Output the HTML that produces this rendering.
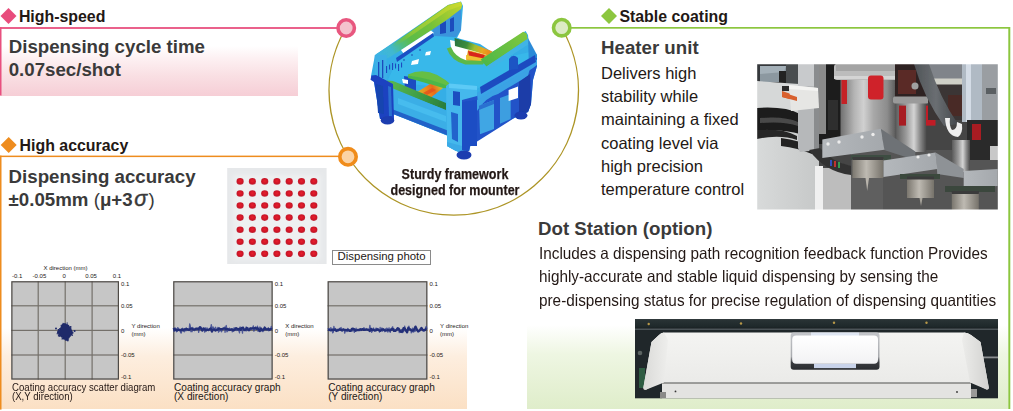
<!DOCTYPE html>
<html><head><meta charset="utf-8">
<style>
*{margin:0;padding:0;box-sizing:border-box}
html,body{width:1013px;height:411px;overflow:hidden;background:#fff}
body{position:relative;font-family:"Liberation Sans",sans-serif;color:#231815}
.a{position:absolute;white-space:nowrap}
.hd{font-weight:bold;font-size:15.9px;line-height:18px;color:#231815}
.h2{font-weight:bold;font-size:18.7px;line-height:22.4px;color:#3a3a3a}
.bt{font-size:16.5px;line-height:23.2px;color:#231815}
.cap{font-size:10px;line-height:9.2px;color:#231815}
.ax{font-size:6px;line-height:7px;color:#231815;margin-top:0.8px}
svg{position:absolute;left:0;top:0}
</style></head><body>

<!-- background gradients -->
<div class="a" style="left:1px;top:46px;width:297px;height:49.8px;background:linear-gradient(#fff 0%,#fdf0f2 25%,#f9dfe3 60%,#f6ced6 100%)"></div>
<div class="a" style="left:1px;top:328px;width:466px;height:81px;background:linear-gradient(rgba(252,226,198,0) 0%,#fdeedf 35%,#fbe0c4 100%)"></div>
<div class="a" style="left:527px;top:325px;width:481px;height:83.5px;background:linear-gradient(rgba(230,242,214,0) 0%,#eef6e2 35%,#dfedca 100%)"></div>

<svg width="1013" height="411" viewBox="0 0 1013 411">
  <!-- pink -->
  <rect x="0" y="27.1" width="340" height="1.8" fill="#e8507f"/>
  <rect x="0" y="27.1" width="1.5" height="68.5" fill="#e8507f"/>
  <polygon points="8.5,8 16.5,16 8.5,24 0.5,16" fill="#e84c7c"/>
  <!-- orange -->
  <rect x="0" y="155.6" width="342" height="1.5" fill="#ee8c1e"/>
  <rect x="0" y="155.6" width="1.5" height="254" fill="#ee8c1e"/>
  <polygon points="8.7,137 16.7,145 8.7,153 0.7,145" fill="#ee8c1e"/>
  <!-- green -->
  <rect x="566" y="27" width="444" height="1.7" fill="#8cc63f"/>
  <rect x="1008.3" y="27" width="2" height="382" fill="#8cc63f"/>
  <polygon points="609,8 617,16 609,24 601,16" fill="#8cc63f"/>
  <!-- arc -->
  <path d="M 345.8 28 A 124.7 124.7 0 1 0 561.7 28" fill="none" stroke="#ad9526" stroke-width="1.4"/>
  <!-- circles -->
  <circle cx="346.2" cy="28" r="8.2" fill="#f4c3cd" stroke="#e8577f" stroke-width="3.6"/>
  <circle cx="348" cy="156.8" r="8.2" fill="#fbd3a5" stroke="#f08c1a" stroke-width="3.6"/>
  <circle cx="561.7" cy="27.7" r="8.2" fill="#dcebc4" stroke="#8cc63f" stroke-width="3.6"/>
</svg>

<!-- fem -->
<svg style="position:absolute;left:0;top:0" width="1013" height="411" viewBox="0 0 1013 411">
<defs>
<linearGradient id="lr" x1="376" y1="55" x2="461" y2="2" gradientUnits="userSpaceOnUse"><stop offset="0" stop-color="#3cb4e4"/><stop offset="0.16" stop-color="#40b8d0"/><stop offset="0.28" stop-color="#50bc7c"/><stop offset="0.38" stop-color="#5cbc48"/><stop offset="0.62" stop-color="#74c23a"/><stop offset="0.84" stop-color="#a2cc30"/><stop offset="1" stop-color="#c0d42c"/></linearGradient>
<linearGradient id="rr" x1="485" y1="62" x2="527" y2="32" gradientUnits="userSpaceOnUse"><stop offset="0" stop-color="#50b848"/><stop offset="1" stop-color="#82c83c"/></linearGradient>
<linearGradient id="fbar" x1="388" y1="84" x2="444" y2="110" gradientUnits="userSpaceOnUse"><stop offset="0" stop-color="#5ab850"/><stop offset="0.6" stop-color="#3c9a44"/><stop offset="1" stop-color="#2a7c3c"/></linearGradient>
<linearGradient id="st" x1="415" y1="96" x2="441" y2="85" gradientUnits="userSpaceOnUse"><stop offset="0" stop-color="#c8c830"/><stop offset="0.45" stop-color="#ee8a1e"/><stop offset="0.7" stop-color="#e86a1c"/><stop offset="1" stop-color="#d0c02c"/></linearGradient>
<linearGradient id="st2" x1="455" y1="40" x2="494" y2="55" gradientUnits="userSpaceOnUse"><stop offset="0" stop-color="#2a7440"/><stop offset="0.3" stop-color="#3c8c3c"/><stop offset="0.5" stop-color="#9cc030"/><stop offset="0.7" stop-color="#e8a820"/><stop offset="0.88" stop-color="#ec8a1e"/><stop offset="1" stop-color="#d8c02c"/></linearGradient>
<linearGradient id="ys" x1="392" y1="45" x2="462" y2="3" gradientUnits="userSpaceOnUse"><stop offset="0" stop-color="#6cc040" stop-opacity="0"/><stop offset="0.3" stop-color="#8cc83a"/><stop offset="1" stop-color="#ccda2c"/></linearGradient>
<filter id="fb1" x="-0.05" y="-0.05" width="1.1" height="1.1"><feGaussianBlur stdDeviation="0.4"/></filter>
</defs>
<g filter="url(#fb1)">
<!-- base silhouette -->
<polygon points="371,76 375,55 448,5 461,1.5 463,6 461,30 457,38 480,44 492,52 512,40 525.6,31 528,35 529,46 537,55 537,66 533,80 531,104 528,112 492,128 472,141 469,151 458,152 447,146 448,136 394,114 393,120 380,119 374,82" fill="#34aee6"/>
<!-- deck -->
<polygon points="387,82 398,58 434,35 458,38 470,46 486,64 512,56 530,52 533,62 470,92 452,88" fill="#38b8ea"/>
<!-- blue block behind rail right -->
<polygon points="432,27 448,17 461,8 461,30 456,37 434,36" fill="#3a94dc"/>
<polygon points="440,24 446,21 446,33 440,34" fill="#1c4cbc"/>
<polygon points="450,19 454,17 454,31 450,32" fill="#1c4cbc"/>
<!-- left rail top -->
<polygon points="375.7,54.5 397,41 448,5 460.8,1.7 462,6 461,9 448,19 431,30.5 401,50 390,57 380,62" fill="url(#lr)"/>
<polygon points="392,44.5 448,6 461,2 462,5.5 448,10.5 394,47.5" fill="url(#ys)"/>
<!-- left rail end block -->
<polygon points="374.8,55 386.7,55 386.7,82.4 374.8,82.4" fill="#3cb0e6"/>
<rect x="378" y="62" width="1.3" height="16" fill="#1c4cbc"/><rect x="382" y="60" width="1.3" height="18" fill="#1c4cbc"/>
<!-- white slit and groove under rail -->
<polygon points="401,50 431,30.5 434,33 403.5,53.5" fill="#ffffff"/>
<polygon points="396,58 433,33 434,36.5 397,62" fill="#1e50c4"/>
<circle cx="404" cy="60" r="0.8" fill="#1a40a8"/><circle cx="412" cy="55" r="0.8" fill="#1a40a8"/><circle cx="420" cy="50" r="0.8" fill="#1a40a8"/>
<polygon points="412,61 419,59 418,64 411,65" fill="#ffffff"/>
<polygon points="426,52 431,51 430,55 425,55.5" fill="#ffffff"/>
<rect x="386" y="66" width="1.1" height="7" fill="#1e4cc0"/><rect x="389" y="64.5" width="1.1" height="5" fill="#1e4cc0"/><rect x="392" y="63" width="1.1" height="7" fill="#1e4cc0"/><rect x="395" y="63.5" width="1.1" height="5" fill="#1e4cc0"/><rect x="398" y="64" width="1.1" height="7" fill="#1e4cc0"/><rect x="401" y="62.5" width="1.1" height="5" fill="#1e4cc0"/>
<!-- back crossmember -->
<polygon points="450,40 470,44 492,52 486,63 468,63 452,56" fill="#ffffff"/>
<polygon points="454.6,38 470,42.5 492.5,51.5 490,56 470,50 455,46" fill="url(#st2)"/>
<polygon points="468,50 490,56 486,62.5 466,60.5" fill="#e8a824"/>
<polygon points="466,55 483,58.5 482,61.5 466,59" fill="#f0c030"/>
<polygon points="468,51 484.7,55 484,58.4 469,55.5" fill="#d8261e"/>
<path d="M446.8 48.6 Q 451 61 465.3 64.6 L 483 64.6 L 485 61 L 466 60.2 Q 455 57 451 47 Z" fill="#5cb848"/>
<!-- right rail -->
<polygon points="480.6,59.5 498.4,48 523.2,31.8 526.6,33.5 527.5,39 486.5,66.5" fill="url(#rr)"/>
<polygon points="486.5,66.5 527.5,39 529,44 490,69" fill="#40b4e6"/>
<!-- right end -->
<polygon points="528,38 537,55 537,66 529,68" fill="#2c8ad8"/>
<!-- front crossmember -->
<polygon points="404,76 416,78 416,91 405,89" fill="#1c4cc0"/>
<polygon points="402,79 408,80 408,84 403,83" fill="#ffffff"/>
<path d="M408 74.5 Q 430 64 453.2 86.6 L 453.2 88.3 Q 430 80 408 75.6 Z" fill="#66be44"/>
<path d="M408 75.6 Q 430 78 453.2 88.3 L 440 88 Q 424 82 408 78 Z" fill="#4cb64a"/>
<polygon points="414,94 430,84 443,88 429,99" fill="url(#st)"/>
<polygon points="423,93 432,88 436,90 427,95" fill="#e2501c" opacity="0.8"/>
<polygon points="386.7,80.5 393,81 446,103 446,110 386.7,87" fill="url(#fbar)"/>
<!-- front face -->
<polygon points="387,86 443,109 448,112 449,136 393,114" fill="#3aaee6"/>
<polygon points="398,98 446,116 446,122 398,104" fill="#46bcee"/>
<polygon points="393,109.5 449,131 449,136 393,114" fill="#2262c8"/>
<!-- left post -->
<polygon points="371.4,75.6 376,75 393,84 394,120 380,119 374,82 370.5,79.8" fill="#1c42c0"/>
<polygon points="376,84 383,86 384,114 378,113" fill="#1844b0"/>
<polygon points="388,86 391,87 392,116 389,116" fill="#2a70d0"/>
<!-- front corner block -->
<polygon points="446,86 449,83.5 477,86 477,100 462,102 462,150 456,151 447,146 447,136" fill="#44b8ec"/>
<polygon points="447,142 462,146 470,150 466,152 456,151 447,146" fill="#3aaae6"/>
<polygon points="449,83.5 477,86 477,90 449,88" fill="#5ccaf6"/>
<polygon points="453,91 460,92 460,106 453,105" fill="#1e50c0"/>
<polygon points="451,112 458,114 458,142 452,139" fill="#2064cc"/>
<!-- right face -->
<polygon points="462,100 477,96 530,60 537,58 537,66 533,80 531,104 528,112 519,115 470,146 469,151 462,150" fill="#2152c8"/>
<polygon points="477,93 532,57 537,60 537,65 533,68 478,104" fill="#3aa4e6"/>
<polygon points="480,87 535,55 536,62 481,94" fill="#1f4cc0"/>
<path d="M477 111 Q 486 97 498 94 L 528 76 L 530 68 L 477 100 Z" fill="#3aa2e4"/>
<polygon points="479,105.7 494,100 494,129 480,134.3" fill="#40a6e4"/>
<polygon points="479,105.7 494,100 494,104 479,110" fill="#2a70d0"/>
<polygon points="500,98 510.7,94 510.7,119 500,123.7" fill="#3c9ee0"/>
<polygon points="508.6,90 518,86.5 518,98 508.6,101" fill="#ffffff"/>
<polygon points="519,82 530,74 531,104 528,112 519,115" fill="#1a3ca8"/>
<polygon points="462,102 477,100 477,146 470,146 469,151 462,150" fill="#1e4ec4"/>
<path d="M509 70 L 509 59 Q 513 53 518 58 L 518 69 Z" fill="#1e54c4"/>
<!-- feet -->
<ellipse cx="387.5" cy="120.4" rx="6.8" ry="4.2" fill="#1c3cb0"/>
<ellipse cx="464" cy="155" rx="7.5" ry="4.6" fill="#1c3cb0"/>
<ellipse cx="521" cy="115.5" rx="6.5" ry="4" fill="#1c3cb0"/>
</g>
</svg>
<!-- headers -->
<div class="a hd" style="left:18.9px;top:8.4px">High-speed</div>
<div class="a hd" style="left:19.6px;top:137.2px">High accuracy</div>
<div class="a hd" style="left:619.4px;top:8.4px">Stable coating</div>

<div class="a h2" style="left:8.7px;top:36.2px">Dispensing cycle time<br>0.07sec/shot</div>
<div class="a h2" style="left:8.6px;top:165.8px">Dispensing accuracy<br>±0.05mm <span style="font-weight:normal">(</span>μ+3<i style="font-weight:normal;font-size:21.5px;margin-left:1.5px;margin-right:1.5px;-webkit-text-stroke:0.4px #3a3a3a">σ</i><span style="font-weight:normal">)</span></div>
<div class="a h2" style="left:601px;top:36.8px">Heater unit</div>
<div class="a bt" style="left:601px;top:62px">Delivers high<br>stability while<br>maintaining a fixed<br>coating level via<br>high precision<br>temperature control</div>
<div class="a h2" style="left:538px;top:217.8px">Dot Station (option)</div>
<div class="a bt" style="left:538.6px;top:242.2px;transform:scaleX(0.928);transform-origin:0 0">Includes a dispensing path recognition feedback function Provides<br>highly-accurate and stable liquid dispensing by sensing the<br>pre-dispensing status for precise regulation of dispensing quantities</div>

<!-- graphs -->
<svg style="position:absolute;left:0;top:0" width="1013" height="411" viewBox="0 0 1013 411"><rect x="11.3" y="281.2" width="107.7" height="98.4" fill="#c6c6c6"/><rect x="11.3" y="305.2" width="107.7" height="1.2" fill="#74706a"/><rect x="11.3" y="329.8" width="107.7" height="1.2" fill="#74706a"/><rect x="11.3" y="354.4" width="107.7" height="1.2" fill="#74706a"/><rect x="37.6" y="281.2" width="1.2" height="98.4" fill="#74706a"/><rect x="64.6" y="281.2" width="1.2" height="98.4" fill="#74706a"/><rect x="91.5" y="281.2" width="1.2" height="98.4" fill="#74706a"/><rect x="11.9" y="281.8" width="106.5" height="97.2" fill="none" stroke="#4e4a46" stroke-width="1.2"/><rect x="173.2" y="281.2" width="99.5" height="98.4" fill="#c6c6c6"/><rect x="173.2" y="305.2" width="99.5" height="1.2" fill="#74706a"/><rect x="173.2" y="329.8" width="99.5" height="1.2" fill="#74706a"/><rect x="173.2" y="354.4" width="99.5" height="1.2" fill="#74706a"/><rect x="173.8" y="281.8" width="98.3" height="97.2" fill="none" stroke="#4e4a46" stroke-width="1.2"/><rect x="327.6" y="281.2" width="99.8" height="98.4" fill="#c6c6c6"/><rect x="327.6" y="305.2" width="99.8" height="1.2" fill="#74706a"/><rect x="327.6" y="329.8" width="99.8" height="1.2" fill="#74706a"/><rect x="327.6" y="354.4" width="99.8" height="1.2" fill="#74706a"/><rect x="328.2" y="281.8" width="98.6" height="97.2" fill="none" stroke="#4e4a46" stroke-width="1.2"/><polygon points="63.2,323.8 64.6,323.5 66.2,324.1 68.4,325.2 69.6,326.6 70.2,327.4 71.3,329.6 72.7,332.2 72.3,333.6 72,334.7 70.8,335.8 69.8,336.9 68.8,338.3 68.4,339.8 67.2,340.4 66.2,340.2 64.6,339.6 63.2,339.1 62.5,337.6 61.4,337.2 60.3,336.2 58.5,334.7 57.8,332.5 58.1,330.7 59.6,329.6 60.7,327.4 61.8,325.2" fill="#1f2a6a" stroke="#1f2a6a" stroke-width="0.6" stroke-linejoin="round"/><circle cx="56" cy="328.6" r="1.0" fill="#1f2a6a"/><circle cx="74.6" cy="331" r="1.0" fill="#1f2a6a"/><g fill="#1f2a6a"><rect x="62.5" y="322.9" width="1.2" height="1.2"/><rect x="61.7" y="324.1" width="1.2" height="1.2"/><rect x="64.4" y="323.5" width="1.2" height="1.2"/><rect x="66.6" y="322.5" width="1.2" height="1.2"/><rect x="67.9" y="324.9" width="1.2" height="1.2"/><rect x="66.7" y="324.3" width="1.2" height="1.2"/><rect x="70.1" y="326.7" width="1.2" height="1.2"/><rect x="70.1" y="326.0" width="1.2" height="1.2"/><rect x="70.1" y="328.1" width="1.2" height="1.2"/><rect x="70.7" y="330.0" width="1.2" height="1.2"/><rect x="72.3" y="332.3" width="1.2" height="1.2"/><rect x="71.8" y="332.2" width="1.2" height="1.2"/><rect x="70.4" y="333.6" width="1.2" height="1.2"/><rect x="71.8" y="334.6" width="1.2" height="1.2"/><rect x="69.0" y="335.3" width="1.2" height="1.2"/><rect x="68.6" y="335.6" width="1.2" height="1.2"/><rect x="67.3" y="339.9" width="1.2" height="1.2"/><rect x="67.1" y="340.1" width="1.2" height="1.2"/><rect x="66.5" y="338.5" width="1.2" height="1.2"/><rect x="65.3" y="339.6" width="1.2" height="1.2"/><rect x="61.5" y="338.3" width="1.2" height="1.2"/><rect x="63.6" y="337.6" width="1.2" height="1.2"/><rect x="62.1" y="336.1" width="1.2" height="1.2"/><rect x="62.1" y="337.9" width="1.2" height="1.2"/><rect x="59.0" y="334.4" width="1.2" height="1.2"/><rect x="58.7" y="335.7" width="1.2" height="1.2"/><rect x="56.7" y="333.1" width="1.2" height="1.2"/><rect x="57.9" y="335.1" width="1.2" height="1.2"/><rect x="57.0" y="331.7" width="1.2" height="1.2"/><rect x="57.5" y="330.9" width="1.2" height="1.2"/><rect x="57.7" y="329.3" width="1.2" height="1.2"/><rect x="57.8" y="331.2" width="1.2" height="1.2"/><rect x="57.9" y="329.1" width="1.2" height="1.2"/><rect x="59.3" y="328.2" width="1.2" height="1.2"/><rect x="59.5" y="328.0" width="1.2" height="1.2"/><rect x="61.3" y="325.9" width="1.2" height="1.2"/><rect x="61.7" y="325.7" width="1.2" height="1.2"/><rect x="60.6" y="324.9" width="1.2" height="1.2"/></g><polyline points="173.5,330.5 174.1,331.3 174.7,328.2 175.3,328.0 175.9,329.9 176.5,331.9 177.1,329.9 177.7,327.6 178.3,328.2 178.9,329.3 179.5,330.7 180.1,329.3 180.7,332.8 181.3,333.0 181.9,329.6 182.5,328.3 183.1,329.3 183.7,329.7 184.3,331.8 184.9,329.3 185.5,330.8 186.1,327.8 186.7,330.6 187.3,329.6 187.9,328.6 188.5,329.3 189.1,330.7 189.7,323.9 190.3,325.9 190.9,331.6 191.5,331.7 192.1,331.7 192.7,327.5 193.3,329.9 193.9,328.3 194.5,330.7 195.1,329.5 195.7,329.7 196.3,330.0 196.9,328.5 197.5,329.5 198.1,328.3 198.7,332.4 199.3,328.7 199.9,329.4 200.5,326.8 201.1,327.2 201.7,328.1 202.3,330.5 202.9,330.5 203.5,329.8 204.1,328.4 204.7,332.1 205.3,327.8 205.9,328.1 206.5,330.1 207.1,327.9 207.7,329.7 208.3,330.8 208.9,329.3 209.5,330.0 210.1,329.4 210.7,328.4 211.3,324.7 211.9,327.6 212.5,329.3 213.1,326.9 213.7,328.5 214.3,329.7 214.9,328.3 215.5,327.3 216.1,328.6 216.7,329.7 217.3,330.1 217.9,327.3 218.5,332.1 219.1,328.1 219.7,331.0 220.3,329.1 220.9,330.0 221.5,331.8 222.1,330.4 222.7,329.5 223.3,327.9 223.9,328.4 224.5,327.2 225.1,332.3 225.7,327.1 226.3,325.5 226.9,331.8 227.5,331.2 228.1,328.8 228.7,330.6 229.3,328.1 229.9,328.5 230.5,330.1 231.1,329.9 231.7,328.7 232.3,331.8 232.9,330.4 233.5,329.6 234.1,327.6 234.7,329.6 235.3,328.9 235.9,329.2 236.5,330.5 237.1,328.5 237.7,329.7 238.3,330.5 238.9,329.9 239.5,332.8 240.1,326.8 240.7,329.3 241.3,327.6 241.9,329.2 242.5,333.1 243.1,326.9 243.7,328.9 244.3,330.3 244.9,329.5 245.5,330.7 246.1,327.0 246.7,330.8 247.3,327.9 247.9,327.5 248.5,330.2 249.1,330.1 249.7,328.3 250.3,328.1 250.9,329.0 251.5,329.3 252.1,329.1 252.7,327.8 253.3,325.9 253.9,331.3 254.5,329.6 255.1,327.5 255.7,327.0 256.3,328.3 256.9,328.7 257.5,326.2 258.1,331.4 258.7,330.0 259.3,328.9 259.9,326.9 260.5,329.7 261.1,330.9 261.7,329.6 262.3,331.2 262.9,331.6 263.5,328.9 264.1,328.7 264.7,328.0 265.3,329.0 265.9,328.2 266.5,329.3 267.1,329.8 267.7,330.1 268.3,327.6 268.9,330.9 269.5,328.9 270.1,329.2 270.7,328.6 271.3,326.3 271.9,329.7" fill="none" stroke="#3a4690" stroke-width="1.3" stroke-linejoin="round" opacity="0.85"/><polyline points="173.5,327.9 174.7,330.2 175.9,329.3 177.1,330.6 178.3,329.8 179.5,329.9 180.7,330.4 181.9,329.3 183.1,330.5 184.3,329.2 185.5,329.5 186.7,328.8 187.9,329.7 189.1,329.8 190.3,328.9 191.5,328.3 192.7,329.3 193.9,329.6 195.1,329.2 196.3,328.5 197.5,328.7 198.7,329.1 199.9,327.2 201.1,328.8 202.3,330.5 203.5,328.3 204.7,329.1 205.9,330.7 207.1,329.9 208.3,330.0 209.5,329.2 210.7,328.3 211.9,331.6 213.1,329.5 214.3,329.5 215.5,330.6 216.7,330.0 217.9,329.4 219.1,328.4 220.3,329.2 221.5,329.2 222.7,328.8 223.9,328.6 225.1,328.5 226.3,329.2 227.5,328.8 228.7,329.6 229.9,330.1 231.1,329.6 232.3,329.3 233.5,330.5 234.7,329.8 235.9,328.1 237.1,328.7 238.3,329.5 239.5,328.6 240.7,329.9 241.9,327.9 243.1,327.8 244.3,330.1 245.5,329.8 246.7,328.0 247.9,329.4 249.1,330.4 250.3,328.4 251.5,328.4 252.7,328.3 253.9,328.5 255.1,327.9 256.3,328.9 257.5,328.1 258.7,329.4 259.9,331.1 261.1,328.5 262.3,330.0 263.5,330.2 264.7,327.5 265.9,329.4 267.1,329.3 268.3,329.0 269.5,329.9 270.7,329.0 271.9,329.6" fill="none" stroke="#232f78" stroke-width="2.2" stroke-linejoin="round"/><polyline points="327.9,328.1 328.5,329.0 329.1,330.2 329.7,328.8 330.3,328.2 330.9,327.6 331.5,330.5 332.1,329.3 332.7,332.8 333.3,332.3 333.9,326.4 334.5,329.7 335.1,328.4 335.7,329.6 336.3,331.5 336.9,329.2 337.5,329.4 338.1,330.9 338.7,329.4 339.3,329.8 339.9,328.1 340.5,328.5 341.1,327.5 341.7,330.9 342.3,331.3 342.9,329.1 343.5,329.5 344.1,329.2 344.7,333.2 345.3,331.1 345.9,329.6 346.5,330.7 347.1,331.5 347.7,328.5 348.3,330.6 348.9,330.6 349.5,329.8 350.1,330.8 350.7,331.4 351.3,329.9 351.9,329.4 352.5,331.0 353.1,330.0 353.7,330.4 354.3,332.4 354.9,330.3 355.5,329.8 356.1,328.1 356.7,330.3 357.3,330.3 357.9,330.6 358.5,330.6 359.1,330.8 359.7,330.2 360.3,330.0 360.9,330.6 361.5,329.0 362.1,328.6 362.7,328.6 363.3,330.0 363.9,327.6 364.5,329.2 365.1,329.6 365.7,330.3 366.3,328.5 366.9,329.9 367.5,329.9 368.1,329.2 368.7,330.0 369.3,329.6 369.9,325.4 370.5,329.4 371.1,328.7 371.7,332.3 372.3,329.6 372.9,329.1 373.5,328.0 374.1,329.9 374.7,330.3 375.3,329.9 375.9,328.1 376.5,328.5 377.1,328.5 377.7,330.1 378.3,328.8 378.9,329.8 379.5,332.2 380.1,327.5 380.7,329.5 381.3,329.8 381.9,327.9 382.5,331.2 383.1,329.5 383.7,330.3 384.3,330.6 384.9,331.7 385.5,329.0 386.1,329.1 386.7,328.2 387.3,328.3 387.9,332.2 388.5,329.3 389.1,327.8 389.7,331.0 390.3,332.4 390.9,328.6 391.5,329.4 392.1,327.5 392.7,326.8 393.3,329.7 393.9,328.9 394.5,329.3 395.1,330.8 395.7,330.8 396.3,329.3 396.9,330.6 397.5,327.6 398.1,328.0 398.7,330.0 399.3,332.5 399.9,330.0 400.5,332.2 401.1,331.5 401.7,329.5 402.3,332.5 402.9,329.6 403.5,331.9 404.1,328.4 404.7,326.1 405.3,330.9 405.9,330.8 406.5,330.6 407.1,331.4 407.7,330.3 408.3,329.5 408.9,326.1 409.5,328.6 410.1,329.9 410.7,328.8 411.3,332.9 411.9,331.1 412.5,328.2 413.1,332.1 413.7,331.7 414.3,331.6 414.9,328.1 415.5,331.1 416.1,329.2 416.7,329.0 417.3,329.8 417.9,331.9 418.5,332.1 419.1,330.2 419.7,331.5 420.3,328.4 420.9,328.8 421.5,329.1 422.1,329.3 422.7,330.4 423.3,331.4 423.9,330.7 424.5,331.1 425.1,330.2 425.7,327.1 426.3,326.5 426.9,329.3" fill="none" stroke="#3a4690" stroke-width="1.3" stroke-linejoin="round" opacity="0.85"/><polyline points="327.9,329.8 329.1,329.9 330.3,330.3 331.5,330.1 332.7,329.5 333.9,330.2 335.1,329.4 336.3,330.9 337.5,330.5 338.7,329.8 339.9,329.4 341.1,330.1 342.3,329.7 343.5,329.4 344.7,330.1 345.9,329.9 347.1,330.3 348.3,329.7 349.5,331.0 350.7,330.9 351.9,328.9 353.1,328.6 354.3,329.3 355.5,330.8 356.7,330.2 357.9,329.9 359.1,330.0 360.3,329.1 361.5,329.9 362.7,329.2 363.9,330.0 365.1,329.6 366.3,329.5 367.5,329.5 368.7,330.2 369.9,331.0 371.1,328.8 372.3,330.3 373.5,329.6 374.7,330.7 375.9,330.5 377.1,329.3 378.3,329.9 379.5,330.7 380.7,330.8 381.9,329.5 383.1,329.2 384.3,330.0 385.5,330.6 386.7,330.4 387.9,330.0 389.1,330.3 390.3,330.4 391.5,329.5 392.7,328.8 393.9,330.9 395.1,331.0 396.3,330.1 397.5,328.4 398.7,328.5 399.9,330.8 401.1,331.8 402.3,331.7 403.5,328.0 404.7,328.3 405.9,330.4 407.1,332.4 408.3,327.7 409.5,329.1 410.7,329.9 411.9,330.7 413.1,330.5 414.3,329.0 415.5,326.6 416.7,329.1 417.9,331.2 419.1,330.7 420.3,329.9 421.5,327.9 422.7,329.8 423.9,330.0 425.1,330.0 426.3,328.3" fill="none" stroke="#232f78" stroke-width="2.2" stroke-linejoin="round"/></svg>
<div class="a ax" style="left:43.5px;top:264.6px">X direction (mm)</div>
<div class="a ax" style="left:12px;top:272.3px">-0.1</div>
<div class="a ax" style="left:32.6px;top:272.3px">-0.05</div>
<div class="a ax" style="left:62.6px;top:272.3px">0</div>
<div class="a ax" style="left:85.2px;top:272.3px">0.05</div>
<div class="a ax" style="left:112.8px;top:272.3px">0.1</div>
<div class="a ax" style="left:120.9px;top:280.2px">0.1</div>
<div class="a ax" style="left:120.9px;top:301.8px">0.05</div>
<div class="a ax" style="left:120.9px;top:326.8px">0</div>
<div class="a ax" style="left:120.9px;top:351.4px">-0.05</div>
<div class="a ax" style="left:120.9px;top:373.4px">-0.1</div>
<div class="a ax" style="left:131.5px;top:322.4px">Y direction</div>
<div class="a ax" style="left:131.5px;top:330.4px">(mm)</div>
<div class="a ax" style="left:274.7px;top:280.2px">0.1</div>
<div class="a ax" style="left:274.7px;top:301.8px">0.05</div>
<div class="a ax" style="left:274.7px;top:326.8px">0</div>
<div class="a ax" style="left:274.7px;top:351.4px">-0.05</div>
<div class="a ax" style="left:274.7px;top:373.4px">-0.1</div>
<div class="a ax" style="left:285.3px;top:322.4px">X direction</div>
<div class="a ax" style="left:285.3px;top:330.4px">(mm)</div>
<div class="a ax" style="left:429.5px;top:280.2px">0.1</div>
<div class="a ax" style="left:429.5px;top:301.8px">0.05</div>
<div class="a ax" style="left:429.5px;top:326.8px">0</div>
<div class="a ax" style="left:429.5px;top:351.4px">-0.05</div>
<div class="a ax" style="left:429.5px;top:373.4px">-0.1</div>
<div class="a ax" style="left:440.1px;top:322.4px">Y direction</div>
<div class="a ax" style="left:440.1px;top:330.4px">(mm)</div>
<div class="a cap" style="left:11.6px;top:383.1px;transform:scaleX(0.962);transform-origin:0 0">Coating accuracy scatter diagram<br>(X,Y direction)</div>
<div class="a cap" style="left:174px;top:383.1px;font-size:10.1px">Coating accuracy graph<br>(X direction)</div>
<div class="a cap" style="left:328.2px;top:383.1px;font-size:10.1px">Coating accuracy graph<br>(Y direction)</div>
<svg style="position:absolute;left:0;top:0" width="1013" height="411"><defs><radialGradient id="dg" cx="0.5" cy="0.45" r="0.55"><stop offset="0" stop-color="#e8202e"/><stop offset="0.7" stop-color="#cc1426"/><stop offset="1" stop-color="#b81224" stop-opacity="0.85"/></radialGradient></defs><rect x="227.2" y="168" width="99.4" height="96" fill="#e6e8ea"/><filter id="dbl" x="-0.2" y="-0.2" width="1.4" height="1.4"><feGaussianBlur stdDeviation="2.5"/></filter><rect x="233" y="175" width="88" height="85" fill="#eef0f1" filter="url(#dbl)"/><ellipse cx="240.1" cy="181.4" rx="3.6" ry="3.3" fill="url(#dg)"/><ellipse cx="240.1" cy="193.5" rx="3.6" ry="3.3" fill="url(#dg)"/><ellipse cx="240.1" cy="205.5" rx="3.6" ry="3.3" fill="url(#dg)"/><ellipse cx="240.1" cy="217.6" rx="3.6" ry="3.3" fill="url(#dg)"/><ellipse cx="240.1" cy="229.7" rx="3.6" ry="3.3" fill="url(#dg)"/><ellipse cx="240.1" cy="241.7" rx="3.6" ry="3.3" fill="url(#dg)"/><ellipse cx="240.1" cy="253.8" rx="3.6" ry="3.3" fill="url(#dg)"/><ellipse cx="252.4" cy="181.4" rx="3.6" ry="3.3" fill="url(#dg)"/><ellipse cx="252.4" cy="193.5" rx="3.6" ry="3.3" fill="url(#dg)"/><ellipse cx="252.4" cy="205.5" rx="3.6" ry="3.3" fill="url(#dg)"/><ellipse cx="252.4" cy="217.6" rx="3.6" ry="3.3" fill="url(#dg)"/><ellipse cx="252.4" cy="229.7" rx="3.6" ry="3.3" fill="url(#dg)"/><ellipse cx="252.4" cy="241.7" rx="3.6" ry="3.3" fill="url(#dg)"/><ellipse cx="252.4" cy="253.8" rx="3.6" ry="3.3" fill="url(#dg)"/><ellipse cx="264.7" cy="181.4" rx="3.6" ry="3.3" fill="url(#dg)"/><ellipse cx="264.7" cy="193.5" rx="3.6" ry="3.3" fill="url(#dg)"/><ellipse cx="264.7" cy="205.5" rx="3.6" ry="3.3" fill="url(#dg)"/><ellipse cx="264.7" cy="217.6" rx="3.6" ry="3.3" fill="url(#dg)"/><ellipse cx="264.7" cy="229.7" rx="3.6" ry="3.3" fill="url(#dg)"/><ellipse cx="264.7" cy="241.7" rx="3.6" ry="3.3" fill="url(#dg)"/><ellipse cx="264.7" cy="253.8" rx="3.6" ry="3.3" fill="url(#dg)"/><ellipse cx="276.9" cy="181.4" rx="3.6" ry="3.3" fill="url(#dg)"/><ellipse cx="276.9" cy="193.5" rx="3.6" ry="3.3" fill="url(#dg)"/><ellipse cx="276.9" cy="205.5" rx="3.6" ry="3.3" fill="url(#dg)"/><ellipse cx="276.9" cy="217.6" rx="3.6" ry="3.3" fill="url(#dg)"/><ellipse cx="276.9" cy="229.7" rx="3.6" ry="3.3" fill="url(#dg)"/><ellipse cx="276.9" cy="241.7" rx="3.6" ry="3.3" fill="url(#dg)"/><ellipse cx="276.9" cy="253.8" rx="3.6" ry="3.3" fill="url(#dg)"/><ellipse cx="289.2" cy="181.4" rx="3.6" ry="3.3" fill="url(#dg)"/><ellipse cx="289.2" cy="193.5" rx="3.6" ry="3.3" fill="url(#dg)"/><ellipse cx="289.2" cy="205.5" rx="3.6" ry="3.3" fill="url(#dg)"/><ellipse cx="289.2" cy="217.6" rx="3.6" ry="3.3" fill="url(#dg)"/><ellipse cx="289.2" cy="229.7" rx="3.6" ry="3.3" fill="url(#dg)"/><ellipse cx="289.2" cy="241.7" rx="3.6" ry="3.3" fill="url(#dg)"/><ellipse cx="289.2" cy="253.8" rx="3.6" ry="3.3" fill="url(#dg)"/><ellipse cx="301.5" cy="181.4" rx="3.6" ry="3.3" fill="url(#dg)"/><ellipse cx="301.5" cy="193.5" rx="3.6" ry="3.3" fill="url(#dg)"/><ellipse cx="301.5" cy="205.5" rx="3.6" ry="3.3" fill="url(#dg)"/><ellipse cx="301.5" cy="217.6" rx="3.6" ry="3.3" fill="url(#dg)"/><ellipse cx="301.5" cy="229.7" rx="3.6" ry="3.3" fill="url(#dg)"/><ellipse cx="301.5" cy="241.7" rx="3.6" ry="3.3" fill="url(#dg)"/><ellipse cx="301.5" cy="253.8" rx="3.6" ry="3.3" fill="url(#dg)"/><ellipse cx="313.8" cy="181.4" rx="3.6" ry="3.3" fill="url(#dg)"/><ellipse cx="313.8" cy="193.5" rx="3.6" ry="3.3" fill="url(#dg)"/><ellipse cx="313.8" cy="205.5" rx="3.6" ry="3.3" fill="url(#dg)"/><ellipse cx="313.8" cy="217.6" rx="3.6" ry="3.3" fill="url(#dg)"/><ellipse cx="313.8" cy="229.7" rx="3.6" ry="3.3" fill="url(#dg)"/><ellipse cx="313.8" cy="241.7" rx="3.6" ry="3.3" fill="url(#dg)"/><ellipse cx="313.8" cy="253.8" rx="3.6" ry="3.3" fill="url(#dg)"/></svg>
<div class="a" style="left:332.4px;top:250.1px;width:98.4px;height:15px;border:1px solid #8a8a8a;background:#fff"></div>
<div class="a" style="left:337.6px;top:250.3px;font-size:11.4px;line-height:13px;color:#231815">Dispensing photo</div>
<div class="a" style="left:354.6px;top:165.6px;width:200px;text-align:center;font-weight:bold;font-size:15.5px;line-height:16px;color:#231815;-webkit-text-stroke:0.25px #231815;transform:scaleX(0.81);transform-origin:100px 0">Sturdy framework<br>designed for mounter</div>

<!-- dot station -->
<svg style="position:absolute;left:0;top:0" width="1013" height="411" viewBox="0 0 1013 411">
<defs>
<linearGradient id="dsTop" x1="0" y1="0" x2="0" y2="1"><stop offset="0" stop-color="#2a3436"/><stop offset="0.7" stop-color="#1e282a"/><stop offset="1" stop-color="#161c1e"/></linearGradient>
<linearGradient id="cov" x1="0" y1="0" x2="0" y2="1"><stop offset="0" stop-color="#f4f4f2"/><stop offset="1" stop-color="#e9e9e7"/></linearGradient>
<linearGradient id="chl" x1="0" y1="0" x2="1" y2="0"><stop offset="0" stop-color="#dadad8"/><stop offset="1" stop-color="#eeeeec"/></linearGradient>
<linearGradient id="chr" x1="0" y1="0" x2="1" y2="0"><stop offset="0" stop-color="#ececea"/><stop offset="1" stop-color="#d2d2d0"/></linearGradient>
<linearGradient id="wfr" x1="0" y1="0" x2="0" y2="1"><stop offset="0" stop-color="#c4c6ca"/><stop offset="0.65" stop-color="#a8aaae"/><stop offset="0.8" stop-color="#3a3c40"/><stop offset="1" stop-color="#2a2c30"/></linearGradient>
<linearGradient id="plate" x1="0" y1="0" x2="0" y2="1"><stop offset="0" stop-color="#ffffff"/><stop offset="1" stop-color="#f2f2f4"/></linearGradient>
</defs>
<rect x="635" y="319.2" width="363" height="79.1" fill="#20272a"/>
<rect x="635" y="319.2" width="363" height="10.5" fill="url(#dsTop)"/>
<rect x="635" y="328.6" width="363" height="1.2" fill="#5a6266"/>
<rect x="639" y="368" width="6" height="20" fill="#2e5c42"/>
<circle cx="640" cy="353" r="2.3" fill="#5c6462"/>
<rect x="975" y="356.5" width="23" height="1.8" fill="#8a8e90"/>
<circle cx="648.7" cy="324" r="1.2" fill="#b89848"/><circle cx="741" cy="323.5" r="1.2" fill="#b89848"/><circle cx="834" cy="322.8" r="1.2" fill="#b89848"/><circle cx="926.5" cy="322.8" r="1.2" fill="#b89848"/>
<!-- lower strip -->
<rect x="662" y="383" width="309" height="15.3" fill="#e3e3e1"/>
<rect x="662" y="382.4" width="309" height="1.2" fill="#6a6a68"/>
<circle cx="675.5" cy="391.4" r="0.9" fill="#333"/><circle cx="957" cy="392" r="0.9" fill="#333"/>
<rect x="971" y="389" width="6" height="8" fill="#9a9a98"/>
<rect x="660" y="392" width="6" height="6" fill="#8a8a88"/>
<!-- cover -->
<path d="M 664 332.4 L 964 332.4 Q 968 332.4 971 335 L 980.5 342 L 988.8 387.5 Q 989 390 986.5 389.5 L 973 382.6 L 658 382.6 L 646.5 389.5 Q 643.2 390.5 643.4 387.5 L 651.5 342 L 659 335 Q 661 332.4 664 332.4 Z" fill="url(#cov)"/>
<path d="M 651.5 342 L 659 335 Q 661 332.4 664 332.4 L 668 340 L 664 382.6 L 646.5 389.5 Q 643.2 390.5 643.4 387.5 Z" fill="url(#chl)"/>
<path d="M 980.5 342 L 971 335 Q 968 332.4 964 332.4 L 962 340 L 970 382.6 L 986.5 389.5 Q 989 390 988.8 387.5 Z" fill="url(#chr)"/>
<!-- window -->
<rect x="790.7" y="332.4" width="88.8" height="37.4" rx="3" fill="url(#wfr)"/>
<rect x="811" y="332.6" width="48" height="3.6" fill="#dfe6f2"/>
<rect x="814" y="363.5" width="42" height="4.6" fill="#c9d3ea"/>
<rect x="792.2" y="335.6" width="85.8" height="28.2" rx="4" fill="url(#plate)"/>
</svg>

<!-- heater -->
<svg style="position:absolute;left:0;top:0" width="1013" height="411" viewBox="0 0 1013 411">
<defs>
<clipPath id="hc"><rect x="757.2" y="64.3" width="240.6" height="145.1"/></clipPath>
<linearGradient id="cyl" x1="0" y1="0" x2="1" y2="0"><stop offset="0" stop-color="#707070"/><stop offset="0.25" stop-color="#b4b4b4"/><stop offset="0.42" stop-color="#d0d0d0"/><stop offset="0.6" stop-color="#a8a8a8"/><stop offset="0.85" stop-color="#8c8c8c"/><stop offset="1" stop-color="#5c5c5c"/></linearGradient>
<linearGradient id="cyl2" x1="0" y1="0" x2="1" y2="0"><stop offset="0" stop-color="#5a5a5a"/><stop offset="0.35" stop-color="#9a9a9a"/><stop offset="0.6" stop-color="#d4d4d4"/><stop offset="0.8" stop-color="#8a8a8a"/><stop offset="1" stop-color="#4a4a4a"/></linearGradient>
<linearGradient id="noz" x1="0" y1="0" x2="1" y2="0"><stop offset="0" stop-color="#7a766e"/><stop offset="0.45" stop-color="#bebab2"/><stop offset="1" stop-color="#76726a"/></linearGradient>
<linearGradient id="wall" x1="0" y1="0" x2="1" y2="0"><stop offset="0" stop-color="#d8dada"/><stop offset="1" stop-color="#c6c8c8"/></linearGradient>
<linearGradient id="brk" x1="0" y1="0" x2="1" y2="0"><stop offset="0" stop-color="#b4b8bc"/><stop offset="1" stop-color="#a4a8ac"/></linearGradient>
<linearGradient id="cab" x1="0" y1="0" x2="1" y2="0"><stop offset="0" stop-color="#505458"/><stop offset="0.5" stop-color="#6a6e72"/><stop offset="1" stop-color="#44484c"/></linearGradient>
<filter id="bl" x="0" y="0" width="1" height="1"><feGaussianBlur stdDeviation="0.75"/></filter>
</defs>
<g clip-path="url(#hc)"><g filter="url(#bl)">
<rect x="757" y="64" width="241" height="146" fill="#444"/>
<rect x="851" y="150" width="147" height="60" fill="#555"/>
<!-- left light wall -->
<rect x="757" y="64" width="62" height="146" fill="url(#wall)"/>
<polygon points="757,64 800,64 800,86 757,84" fill="#35383a"/>
<polygon points="760,66 786,66 786,82 760,82" fill="#8c98a0"/>
<polygon points="760,66 786,66 784,72 760,74" fill="#a4b0b8"/>
<rect x="779" y="71" width="7" height="12" fill="#222"/>
<rect x="786" y="64" width="14" height="24" fill="#4a4e50"/>
<!-- white connector -->
<polygon points="757,81 799,84 819,88 819,106 800,110 757,109" fill="#d6d8d8"/>
<polygon points="782,91 797,96 797,101 782,97" fill="#d8602e"/>
<rect x="782" y="86" width="7" height="5" fill="#2a2a2a"/>
<!-- black cables -->
<path d="M757 108 Q 785 106 800 114 L 800 134 Q 780 128 757 132 Z" fill="#1c1c1c"/>
<path d="M760 118 Q 785 116 798 122 L 798 126 Q 785 121 760 123 Z" fill="#4a4a4a"/>
<path d="M757 130 Q 782 128 797 136 L 797 140 Q 780 134 757 139 Z" fill="#262626"/>
<path d="M781 138 Q 800 140 812 148 L 812 154 Q 798 148 781 146 Z" fill="#222"/>
<!-- vertical plate -->
<polygon points="798,64 819,64 819,150 800,152 798,148" fill="#b6b8ba"/>
<rect x="798" y="64" width="21" height="22" fill="#c8cacc"/>
<rect x="814" y="64" width="5" height="86" fill="#8a8c8e"/>
<polygon points="789,85 818,88 819,108 791,111" fill="#e6e6e4"/>
<polygon points="789,85 818,88 818,91 789,89" fill="#f4f4f2"/>
<polygon points="782,92 797,97 797,101 782,97" fill="#d8602e"/>
<!-- dark gap -->
<rect x="819" y="64" width="22" height="80" fill="#1a1a1a"/>
<rect x="819" y="64" width="7" height="70" fill="#8a8a8a"/>
<rect x="828" y="100" width="10" height="30" fill="#2e2e2e"/>
<!-- lower area -->
<rect x="815" y="166" width="8" height="46" fill="#f0f0f0"/>
<rect x="823" y="168" width="28" height="44" fill="#bdbdbd"/>
<rect x="851" y="176" width="32" height="36" fill="#5e5e5e"/>
<path d="M809 150 Q 825 172 851 175 L 851 166 Q 832 162 820 148 Z" fill="#333"/>
<rect x="830" y="160" width="2" height="6" fill="#3050c0"/><rect x="834" y="161" width="2" height="6" fill="#c03030"/><rect x="838" y="162" width="2" height="6" fill="#30a050"/>
<!-- cylinder 1 -->
<rect x="840.5" y="78" width="55" height="60" fill="url(#cyl)"/>
<rect x="834" y="64" width="64" height="16" rx="3" fill="#bcbcbc"/>
<rect x="836" y="64" width="60" height="7" fill="#a4a4a4"/>
<rect x="834" y="76" width="64" height="3" fill="#d4d4d4"/>
<rect x="841.5" y="80" width="5.5" height="24" fill="#c42028"/>
<rect x="868" y="75.5" width="15.5" height="24" rx="3" fill="#cf2229"/>
<!-- top middle dark-red -->
<rect x="895" y="64" width="35" height="33" fill="#2e2424"/>
<rect x="898" y="70" width="18" height="24" fill="#5a2c28"/>
<circle cx="915" cy="86" r="3.5" fill="#a0a0a0"/>
<!-- cylinder 2 -->
<rect x="895.3" y="100" width="31" height="52" fill="url(#cyl2)"/>
<rect x="893" y="96.5" width="36" height="7" rx="2" fill="#9a9a9a"/>
<rect x="899" y="105.6" width="7" height="20" fill="#a81c22"/>
<rect x="926" y="105.6" width="9.5" height="20" fill="#c01e26"/>
<!-- right top region -->
<rect x="928" y="64" width="40" height="56" fill="#3a3434"/>
<rect x="928" y="64" width="40" height="15" fill="#80848a"/>
<rect x="934" y="78.5" width="28" height="6" fill="#d0d0c8"/>
<rect x="948" y="95" width="19" height="21" fill="#4a2a26"/>
<rect x="962" y="64" width="20" height="58" fill="#b0bac4"/>
<rect x="966" y="64" width="5" height="58" fill="#d4dce6"/>
<rect x="982" y="64" width="16" height="62" fill="#9a9ea2"/>
<rect x="986" y="88" width="10" height="6" fill="#5a5e62"/>
<rect x="967" y="120" width="31" height="40" fill="#2c2c2c"/>
<rect x="972" y="124" width="9" height="16" fill="#a81c22"/>
<rect x="990" y="146" width="8" height="14" fill="#c8c8c8"/>
<!-- cable -->
<path d="M914 64 L 929 64 Q 940 98 958 124 L 944 126 Q 924 98 914 64 Z" fill="url(#cab)"/>
<path d="M945 118 Q 946 136 958 137 Q 963 134 962 124 L 957 122 Q 957 130 952 130 Q 949 126 950 118 Z" fill="#eeeeee"/>
<!-- bracket 1 -->
<polygon points="880.7,128.7 915.4,151.5 915,160 884,150" fill="#6e7276"/>
<polygon points="822.3,139.6 880.7,128.7 884.4,149.7 822.3,157.9" fill="url(#brk)"/>
<circle cx="828" cy="144" r="1.7" fill="#ececec"/><circle cx="839" cy="142" r="1.7" fill="#ececec"/><circle cx="862" cy="137" r="1.7" fill="#ececec"/><circle cx="873" cy="134.5" r="1.7" fill="#ececec"/>
<rect x="851" y="155" width="40" height="5" fill="#3e4e42"/>
<!-- nozzle 1 -->
<rect x="852.4" y="159" width="31" height="19" fill="url(#noz)"/>
<rect x="852.4" y="157" width="31" height="3" fill="#3a3a3a"/>
<polygon points="865.5,178 869,178 867.2,191" fill="#b8b4ac"/>
<!-- bracket 2 -->
<rect x="952" y="140" width="18" height="32" fill="url(#cyl2)"/>
<polygon points="935.5,152.4 963.7,169 963.7,178 937.3,174" fill="#8e9296"/>
<polygon points="883.5,160.6 935.5,152.4 937.3,169 883.5,177" fill="url(#brk)"/>
<circle cx="918" cy="157" r="1.6" fill="#ececec"/><circle cx="929" cy="155" r="1.6" fill="#ececec"/>
<rect x="900" y="174" width="40" height="5" fill="#3a4a3e"/>
<!-- nozzle 2 -->
<rect x="907" y="178" width="27" height="20" fill="url(#noz)"/>
<rect x="907" y="176.5" width="27" height="3" fill="#3a3a3a"/>
<polygon points="919.5,198 922.5,198 921,206" fill="#a8a49c"/>
<!-- bracket 3 -->
<polygon points="963.7,171 997.6,169 997.6,186 963.7,188" fill="url(#brk)"/>
<rect x="945" y="186" width="50" height="6" fill="#3a463e"/>
<!-- nozzle 3 -->
<rect x="951.8" y="193" width="27" height="17" fill="url(#noz)"/>
<rect x="951.8" y="191" width="27" height="3" fill="#3a3a3a"/>
</g></g>
</svg>

</body></html>
